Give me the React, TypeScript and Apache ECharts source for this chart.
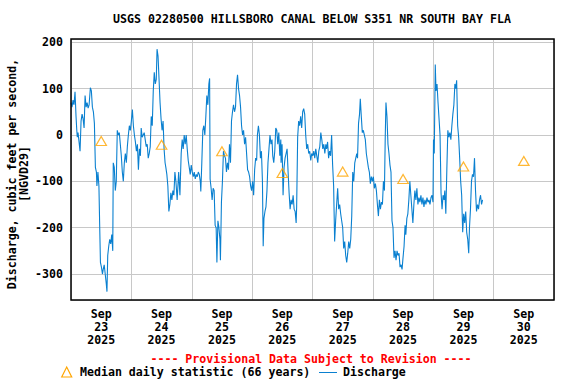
import React, { useEffect, useRef } from "react";
import * as echarts from "echarts";

const TITLE = "USGS 02280500 HILLSBORO CANAL BELOW S351 NR SOUTH BAY FLA";
const Y_NAME = "Discharge, cubic feet per second,\n[NGVD29]";
const PROVISIONAL = "---- Provisional Data Subject to Revision ----";
const LEGEND_MEDIAN = "Median daily statistic (66 years)";
const LEGEND_DISCHARGE = "Discharge";

// x in hours since 2025-09-23 00:00
const dayLabels = ["23", "24", "25", "26", "27", "28", "29", "30"];
const labelHours = [12, 36, 60, 84, 108, 132, 156, 180];
const yTicks = [-300, -200, -100, 0, 100, 200];

const medianHours = [12, 36, 60, 84, 108, 132, 156, 180];
const medianValues = [-13, -21, -35, -82, -79, -95, -68, -56];

const discharge: [number, number][] = [
  [0.0, 70], [0.4, 60], [0.8, 75], [1.2, 65], [1.6, 93], [2.0, 40], [2.3, 10], [2.5, -5], [2.8, 5], [3.2, -15],
  [3.6, -35], [4.0, 30], [4.4, 45], [4.8, 35], [5.2, 15], [5.6, 85], [6.0, 60], [6.4, 70], [6.8, 58], [7.2, 65],
  [7.7, 102], [8.1, 95], [8.5, 60], [8.9, 50], [9.3, 25], [9.7, -70], [10.1, -80], [10.3, -110], [10.7, -80], [11.1, -110],
  [11.4, -195], [11.7, -275], [12.1, -285], [12.5, -300], [12.8, -290], [13.2, -280], [13.6, -300], [14.0, -320], [14.3, -338], [14.6, -260],
  [15.0, -240], [15.4, -225], [15.8, -235], [16.2, -215], [16.6, -250], [16.8, -60], [17.2, -70], [17.6, -120], [18.0, -100], [18.4, 10],
  [18.8, 0], [19.2, 5], [19.6, -20], [20.0, -45], [20.4, -80], [20.8, -100], [21.2, -60], [21.6, -40], [22.0, -60], [22.4, -25],
  [22.8, 0], [23.2, 20], [23.6, 10], [24.0, 30], [24.4, 55], [24.8, 20], [25.2, 0], [25.6, -15], [26.0, -35], [26.4, -20],
  [26.8, -75], [27.2, -30], [27.6, -45], [27.9, 15], [28.3, -5], [28.7, 0], [29.1, 5], [29.5, -10], [29.9, -25], [30.3, -20],
  [30.7, -50], [31.1, -40], [31.5, -25], [31.9, 40], [32.3, 20], [32.7, 95], [33.1, 135], [33.5, 110], [33.9, 120], [34.2, 185],
  [34.6, 170], [35.0, 120], [35.4, 70], [35.8, 35], [36.2, 10], [36.6, 30], [37.0, -30], [37.4, -60], [37.7, -70], [38.1, -85],
  [38.5, -110], [38.9, -165], [39.3, -150], [39.7, -125], [40.1, -140], [40.5, -120], [40.9, -130], [41.3, -80], [41.7, -100],
  [42.2, -140], [42.8, -80], [43.3, -130], [43.8, -40], [44.2, -10], [44.6, -30], [45.0, 0], [45.4, -20], [45.8, 0], [46.2, -30],
  [46.6, -55], [47.0, -70], [47.4, -85], [47.8, -65], [48.2, -80], [48.6, -90], [49.0, -80], [49.4, -95], [49.8, -85], [50.2, -90],
  [50.6, -80], [51.0, -85], [51.4, -100], [51.6, -122], [52.0, -60], [52.4, 10], [52.8, 20], [53.2, 0], [53.6, 40], [54.0, 85],
  [54.4, 65], [54.8, 110], [55.1, 122], [55.3, -95], [55.7, -115], [56.1, -140], [56.5, -115], [56.9, -120], [57.3, -195], [57.7, -200],
  [58.0, -275], [58.4, -185], [58.8, -200], [59.2, -225], [59.4, -270], [59.8, -145], [60.2, -100], [60.6, -35], [61.0, -45], [61.4, -50],
  [61.8, -80], [62.2, -60], [62.6, -75], [63.0, -20], [63.4, -60], [63.8, 30], [64.2, 50], [64.6, 65], [65.0, 50], [65.4, 60],
  [65.8, 110], [66.2, 130], [66.6, 100], [67.0, 85], [67.4, 60], [67.8, 20], [68.2, 0], [68.6, 10], [69.0, -20], [69.4, -5],
  [69.8, -40], [70.2, -75], [70.6, -80], [71.0, -90], [71.4, -110], [71.8, -120], [72.2, -100], [72.6, -130], [73.0, -75], [73.4, -50],
  [73.8, -55], [74.1, 0], [74.5, 20], [74.9, 0], [75.3, -50], [75.7, -35], [76.1, -100], [76.4, -240], [76.7, -180], [77.1, -165],
  [77.5, -155], [77.9, -120], [78.3, -60], [78.7, -30], [79.1, 0], [79.5, -20], [79.9, -10], [80.2, -45], [80.6, -60], [81.0, -35],
  [81.4, 15], [81.8, 10], [82.2, -20], [82.6, 5], [83.0, -45], [83.4, -10],
  [83.5, -60], [83.9, -20], [84.3, -130], [84.7, -70], [85.1, -50], [85.5, -40], [85.9, -30], [86.3, -80], [86.7, -125], [87.1, -160],
  [87.5, -140], [87.9, -150], [88.3, -130], [88.7, -160], [89.1, -165], [89.5, -190], [89.7, -155], [90.1, -5], [90.5, 30], [90.9, 20],
  [91.3, 40], [91.7, 15], [92.1, 50], [92.5, 57], [92.9, 45], [93.3, 0], [93.7, -30], [94.1, -20], [94.5, -40], [94.9, -35],
  [95.3, -55], [95.7, -40], [96.1, -45], [96.5, -35], [96.9, -50], [97.3, -30], [97.7, -45], [98.1, -60], [98.5, -35], [98.9, -25],
  [99.3, 5], [99.7, -10], [100.1, -30], [100.5, -20], [100.9, -40], [101.3, -20], [101.6, -30], [102.0, -15], [102.4, -50], [102.8, -35],
  [103.2, -45], [103.6, 0], [104.0, -65], [104.4, -110], [104.8, -230], [105.2, -185], [105.6, -150], [106.0, -115], [106.4, -160], [106.8, -150],
  [107.2, -170], [107.6, -185], [108.0, -200], [108.4, -245], [108.8, -230], [109.2, -260], [109.6, -275], [110.0, -255], [110.4, -230], [110.8, -245],
  [111.2, -225], [111.6, -175], [112.0, -80], [112.4, -100], [112.8, -60], [113.2, -50], [113.6, -40], [113.9, -50], [114.3, 25], [114.7, 45],
  [115.0, 78], [115.4, 40], [115.8, 5], [116.2, 10], [116.6, 0], [117.0, -10], [117.4, -40], [117.8, -55], [118.2, -70], [118.6, -80],
  [119.0, -105], [119.4, -90], [119.8, -100], [120.2, -90], [120.6, -115], [121.0, -105], [121.4, -120], [121.8, -150], [122.2, -175], [122.6, -140],
  [123.0, -160], [123.4, -145], [123.8, -150], [124.2, -100], [124.6, -120], [124.9, -10],
  [125.2, 70], [125.6, 40], [126.0, -20], [126.4, -40], [126.8, -65], [127.2, -80], [127.6, -185], [128.0, -200], [128.4, -265], [128.8, -250],
  [129.2, -270], [129.6, -250], [130.0, -260], [130.4, -255], [130.8, -285], [131.2, -280], [131.6, -290], [131.9, -270], [132.4, -240], [132.8, -195],
  [133.1, -215], [133.5, -180], [133.9, -170], [134.3, -140], [134.7, -100], [135.1, -130], [135.5, -160], [135.9, -190], [136.3, -150], [136.7, -120],
  [137.1, -140], [137.5, -115], [137.9, -150], [138.3, -135], [138.7, -145], [139.1, -130], [139.5, -150], [139.9, -135], [140.3, -155], [140.7, -140],
  [141.1, -150], [141.5, -135], [141.9, -145], [142.3, -140], [142.7, -150], [143.1, -135], [143.5, -130], [143.9, -145], [144.1, -10], [144.4, -40],
  [144.7, 100], [144.8, 152], [145.1, 95], [145.5, 110], [145.9, 70], [146.3, 35], [146.7, 0], [147.1, -125], [147.5, -160], [147.9, -130],
  [148.3, -140], [148.6, -120], [149.0, -170], [149.4, -75], [149.8, 10], [150.2, -5], [150.6, 5], [151.0, -10], [151.4, 20], [151.8, 45],
  [152.2, 65], [152.6, 110], [153.0, 100], [153.3, 118], [153.7, 20], [154.1, -5], [154.5, -50], [154.9, -100], [155.3, -130], [155.7, -210],
  [156.1, -170], [156.5, -190], [156.9, -165], [157.3, -210], [157.7, -225], [158.1, -255], [158.4, -200], [158.8, -160], [159.2, -100], [159.6, -85],
  [160.0, -90], [160.4, -50], [160.8, -120], [161.2, -165], [161.6, -150], [162.0, -160], [162.4, -140], [162.8, -130], [163.2, -150], [163.6, -140],
];

const FONT = '"DejaVu Sans Mono", "Liberation Mono", monospace';
const FS = 11.6;
const BLUE = "#0a80d0";
const ORANGE = "#ffa500";

const GL = 71, GT = 39, GR = 554, GB = 300;

export default function App() {
  const ref = useRef<HTMLDivElement>(null);
  useEffect(() => {
    if (!ref.current) return;
    const chart = echarts.init(ref.current, null, { renderer: "svg" });
    const textStyle = (extra: any) => ({
      font: `bold ${FS}px ${FONT}`,
      fill: "#000",
      ...extra,
    });
    chart.setOption({
      animation: false,
      backgroundColor: "#fff",
      grid: { left: GL, top: GT, right: 576 - GR, bottom: 384 - GB, containLabel: false },
      xAxis: {
        type: "value",
        min: 0,
        max: 192,
        interval: 24,
        axisLine: { show: false },
        axisTick: { show: false },
        splitLine: { show: true, lineStyle: { color: "#c8c8c8", width: 1 } },
        axisLabel: {
          customValues: labelHours,
          formatter: (v: number) => `Sep\n${dayLabels[Math.floor(v / 24)]}\n2025`,
          fontFamily: FONT,
          fontWeight: "bold",
          fontSize: FS,
          color: "#000",
          lineHeight: 12.8,
          margin: 8,
        },
      },
      yAxis: {
        type: "value",
        min: -356,
        max: 207,
        axisLine: { show: false },
        axisTick: { show: false },
        splitLine: { show: true, lineStyle: { color: "#c8c8c8", width: 1 } },
        axisLabel: {
          customValues: yTicks,
          fontFamily: FONT,
          fontWeight: "bold",
          fontSize: FS,
          color: "#000",
          margin: 8,
        },
      },
      series: [
        {
          type: "line",
          data: discharge,
          showSymbol: false,
          symbol: "none",
          lineStyle: { color: BLUE, width: 1.1 },
          z: 2,
        },
        {
          type: "scatter",
          data: medianHours.map((h, i) => [h, medianValues[i]]),
          symbol: "triangle",
          symbolSize: [10.5, 9],
          itemStyle: { color: "rgba(255,255,255,0)", borderColor: ORANGE, borderWidth: 1.2 },
          z: 3,
        },
      ],
      graphic: [
        {
          type: "rect",
          shape: { x: GL, y: GT, width: GR - GL, height: GB - GT },
          style: { fill: "none", stroke: "#000", lineWidth: 1.5 },
          z: 100,
          silent: true,
        },
        {
          type: "text",
          x: 312,
          y: 19,
          style: textStyle({ text: TITLE, align: "center", verticalAlign: "middle" }),
        },
        {
          type: "text",
          x: 18,
          y: 174,
          rotation: Math.PI / 2,
          style: textStyle({ text: Y_NAME, align: "center", verticalAlign: "middle", lineHeight: 12 }),
        },
        {
          type: "text",
          x: 311,
          y: 359,
          style: textStyle({ text: PROVISIONAL, align: "center", verticalAlign: "middle", fill: "#ff0000" }),
        },
        {
          type: "polygon",
          shape: { points: [[61.7, 377], [66.7, 367], [71.7, 377]] },
          style: { fill: "none", stroke: ORANGE, lineWidth: 1.2 },
        },
        {
          type: "text",
          x: 80,
          y: 372,
          style: textStyle({ text: LEGEND_MEDIAN, align: "left", verticalAlign: "middle" }),
        },
        {
          type: "line",
          shape: { x1: 319, y1: 372.5, x2: 337, y2: 372.5 },
          style: { stroke: BLUE, lineWidth: 1 },
        },
        {
          type: "text",
          x: 343,
          y: 372,
          style: textStyle({ text: LEGEND_DISCHARGE, align: "left", verticalAlign: "middle" }),
        },
      ],
    });
    return () => chart.dispose();
  }, []);
  return (
    <div
      ref={ref}
      style={{ position: "fixed", left: 0, top: 0, width: 576, height: 384 }}
    />
  );
}
